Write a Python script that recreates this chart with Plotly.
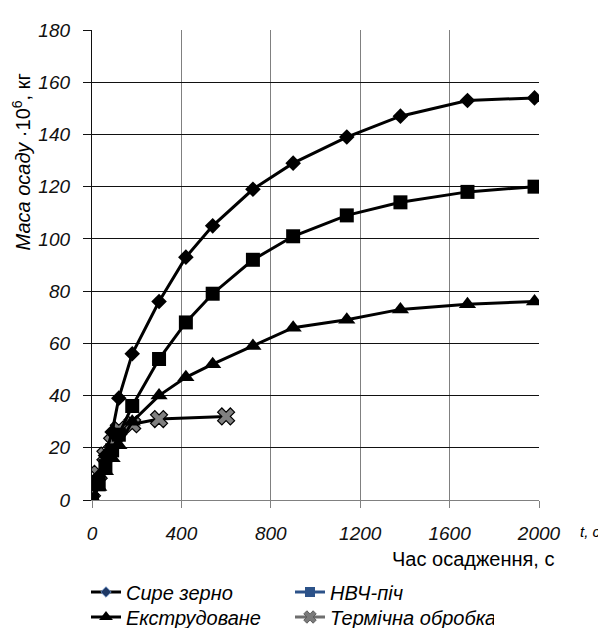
import plotly.graph_objects as go

# ---- data ----
times = [0, 30, 60, 90, 120, 180, 300, 420, 540, 720, 900, 1140, 1380, 1680, 1980]
raw_grain = [0, 9, 17, 26, 39, 56, 76, 93, 105, 119, 129, 139, 147, 153, 154]
microwave = [0, 6, 13, 19, 25, 36, 54, 68, 79, 92, 101, 109, 114, 118, 120]
extruded = [0, 5, 11, 16, 21, 30, 40, 47, 52, 59, 66, 69, 73, 75, 76]
thermal_times = [0, 30, 60, 90, 120, 180, 300, 600]
thermal = [0, 10, 17, 22, 27, 29, 31, 32]

names = ["Сире зерно", "НВЧ-піч", "Екструдоване", "Термічна обробка"]
x_ticks = [0, 400, 800, 1200, 1600, 2000]
y_ticks = [0, 20, 40, 60, 80, 100, 120, 140, 160, 180]

FONT = "Liberation Sans, Arial, sans-serif"
OFF = 8  # page body margin
W, H = 606 - OFF, 628 - OFF

fig = go.Figure()

# plotted series (no legend)
fig.add_trace(go.Scatter(x=thermal_times, y=thermal, mode="lines+markers", showlegend=False,
                         line=dict(color="black", width=3),
                         marker=dict(symbol="x", size=15, color="#808080",
                                     line=dict(color="black", width=1.2))))
fig.add_trace(go.Scatter(x=times, y=extruded, mode="lines+markers", showlegend=False,
                         line=dict(color="black", width=3),
                         marker=dict(symbol="triangle-up", size=15, color="black")))
fig.add_trace(go.Scatter(x=times, y=microwave, mode="lines+markers", showlegend=False,
                         line=dict(color="black", width=3),
                         marker=dict(symbol="square", size=14, color="black")))
fig.add_trace(go.Scatter(x=times, y=raw_grain, mode="lines+markers", showlegend=False,
                         line=dict(color="black", width=3),
                         marker=dict(symbol="diamond", size=12, color="black")))

# legend entries
fig.add_trace(go.Scatter(x=[None], y=[None], mode="lines+markers", name=names[0], legend="legend",
                         line=dict(color="black", width=3),
                         marker=dict(symbol="diamond", size=8, color="#1f3864",
                                     line=dict(color="#5b7fb5", width=1))))
fig.add_trace(go.Scatter(x=[None], y=[None], mode="lines+markers", name=names[1], legend="legend",
                         line=dict(color="#2c5289", width=3),
                         marker=dict(symbol="square", size=10, color="#2c5289")))
fig.add_trace(go.Scatter(x=[None], y=[None], mode="lines+markers", name=names[2], legend="legend2",
                         line=dict(color="black", width=3),
                         marker=dict(symbol="triangle-up", size=12, color="black")))
fig.add_trace(go.Scatter(x=[None], y=[None], mode="lines+markers", name=names[3], legend="legend2",
                         line=dict(color="#6e6e6e", width=3),
                         marker=dict(symbol="x", size=11, color="#7a7a7a",
                                     line=dict(color="#5a5a5a", width=1))))

legend_common = dict(orientation="h", xref="container", yref="container",
                     x=(86 - OFF) / W, xanchor="left", yanchor="middle",
                     font=dict(family=FONT, size=20, color="black", style="italic"),
                     entrywidth=159, entrywidthmode="pixels",
                     bgcolor="rgba(0,0,0,0)", borderwidth=0)

fig.update_layout(
    width=W, height=H,
    margin=dict(l=92 - OFF, r=67, t=21 - OFF, b=128),
    plot_bgcolor="white", paper_bgcolor="white",
    font=dict(family=FONT, color="black"),
    legend=dict(**legend_common, y=1 - (592 - OFF) / H),
    legend2=dict(**legend_common, y=1 - (617 - OFF) / H),
    xaxis=dict(range=[0, 2000], tickvals=x_ticks, ticktext=[str(v) for v in x_ticks],
               showgrid=True, gridcolor="#808080", gridwidth=1.3,
               showline=True, linecolor="#808080", linewidth=1.3,
               ticks="outside", ticklen=7, tickcolor="#808080", tickwidth=1.3,
               zeroline=False, ticklabelstandoff=9,
               tickfont=dict(family=FONT, size=19, color="#111", style="italic")),
    yaxis=dict(range=[0, 180], tickvals=y_ticks, ticktext=[str(v) for v in y_ticks],
               showgrid=True, gridcolor="#111", gridwidth=1.3,
               showline=True, linecolor="#111", linewidth=1.3,
               ticks="outside", ticklen=8, tickcolor="#111", tickwidth=1.3,
               zeroline=False, ticklabelstandoff=9,
               tickfont=dict(family=FONT, size=19, color="#111", style="italic")),
    annotations=[
        dict(text="<i>Маса осаду</i> ·10<sup>6</sup>, кг", xref="paper", yref="paper",
             x=(21 - 92) / 447.6, y=(500.3 - 156) / 479.3, textangle=-90,
             xanchor="center", yanchor="middle", showarrow=False,
             font=dict(family=FONT, size=20, color="black")),
        dict(text="Час осадження, с", xref="paper", yref="paper",
             x=(474 - 92) / 447.6, y=(500.3 - 560) / 479.3,
             xanchor="center", yanchor="middle", showarrow=False,
             font=dict(family=FONT, size=20, color="black")),
        dict(text="<i>t, с</i>", xref="paper", yref="paper",
             x=(579 - 92) / 447.6, y=(500.3 - 532) / 479.3,
             xanchor="left", yanchor="middle", showarrow=False,
             font=dict(family=FONT, size=15, color="black")),
    ],
)

fig.write_html("out.html")
